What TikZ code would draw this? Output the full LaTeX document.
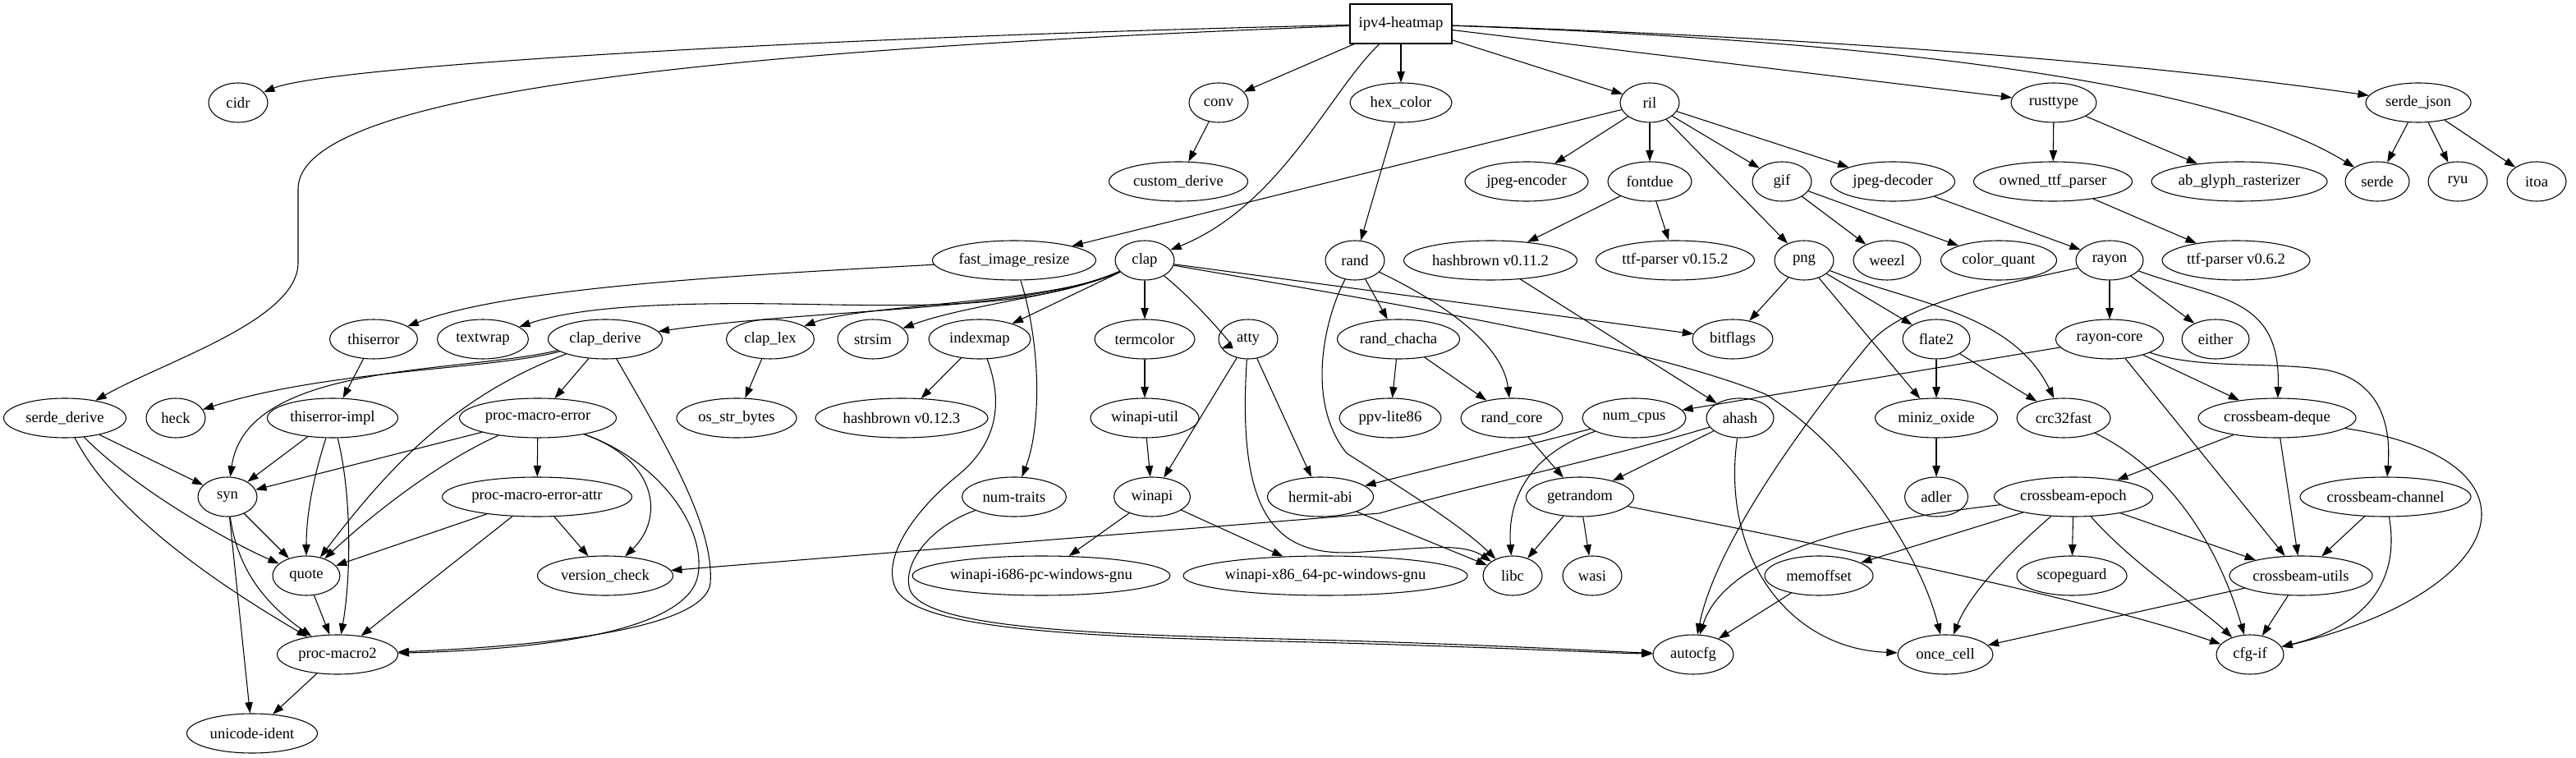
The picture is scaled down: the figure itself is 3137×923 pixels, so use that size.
\documentclass[tikz,border=0pt]{standalone}
\usepackage{fontspec}
\setmainfont{Liberation Serif}
\usetikzlibrary{arrows.meta,shapes.geometric}
\begin{document}
\begin{tikzpicture}[x=0.75pt,y=-0.75pt,
  nd/.style={draw, ellipse, line width=0.8pt, inner sep=0pt, minimum height=36pt, font=\fontsize{14pt}{16pt}\selectfont},
  wd/.style={minimum width=#1*0.75pt},
  box/.style={draw, rectangle, line width=0.8pt, inner sep=0pt, minimum width=93pt, minimum height=36pt, font=\fontsize{14pt}{16pt}\selectfont},
  ed/.style={draw, line width=0.8pt, -{Triangle[length=10pt,width=7pt]}}]
\useasboundingbox (0,0) rectangle (3137,923);
% row 0
\node[box] (ipv) at (1706,29) {ipv4-heatmap};
% row 1
\node[nd,wd=72] (cidr) at (290,125) {cidr};
\node[nd,wd=72] (conv) at (1484,125) {conv};
\node[nd,wd=124] (hexc) at (1706,125) {hex\_color};
\node[nd,wd=72] (ril) at (2009,125) {ril};
\node[nd,wd=104] (rust) at (2501,125) {rusttype};
\node[nd,wd=128] (sjson) at (2945,125) {serde\_json};
% row 2
\node[nd,wd=169] (custd) at (1435,221) {custom\_derive};
\node[nd,wd=150] (jenc) at (1859,221) {jpeg-encoder};
\node[nd,wd=102] (fontdue) at (2009,221) {fontdue};
\node[nd,wd=72] (gif) at (2170,221) {gif};
\node[nd,wd=151] (jdec) at (2305,221) {jpeg-decoder};
\node[nd,wd=193] (ottf) at (2500,221) {owned\_ttf\_parser};
\node[nd,wd=214] (abg) at (2727,221) {ab\_glyph\_rasterizer};
\node[nd,wd=78] (serde) at (2895,221) {serde};
\node[nd,wd=72] (ryu) at (2993,221) {ryu};
\node[nd,wd=72] (itoa) at (3089,221) {itoa};
% row 3
\node[nd,wd=199] (fir) at (1235,317) {fast\_image\_resize};
\node[nd,wd=72] (clap) at (1394,317) {clap};
\node[nd,wd=72] (rand) at (1650,317) {rand};
\node[nd,wd=211] (hbA) at (1815,317) {hashbrown v0.11.2};
\node[nd,wd=193] (ttfA) at (2040,317) {ttf-parser v0.15.2};
\node[nd,wd=72] (png) at (2197,317) {png};
\node[nd,wd=82] (weezl) at (2298,317) {weezl};
\node[nd,wd=141] (cq) at (2434,317) {color\_quant};
\node[nd,wd=82] (rayon) at (2569,317) {rayon};
\node[nd,wd=180] (ttfB) at (2723,317) {ttf-parser v0.6.2};
% row 4
\node[nd,wd=107] (thiserror) at (455,413) {thiserror};
\node[nd,wd=111] (textwrap) at (588,413) {textwrap};
\node[nd,wd=139] (clapd) at (737,413) {clap\_derive};
\node[nd,wd=107] (claplex) at (938,413) {clap\_lex};
\node[nd,wd=86] (strsim) at (1063,413) {strsim};
\node[nd,wd=124] (indexmap) at (1193,413) {indexmap};
\node[nd,wd=122] (termcolor) at (1394,413) {termcolor};
\node[nd,wd=72] (atty) at (1520,413) {atty};
\node[nd,wd=149] (rchacha) at (1703,413) {rand\_chacha};
\node[nd,wd=98] (bitflags) at (2110,413) {bitflags};
\node[nd,wd=82] (flate) at (2358,413) {flate2};
\node[nd,wd=131] (rcore) at (2569,413) {rayon-core};
\node[nd,wd=82] (either) at (2698,413) {either};
% row 5
\node[nd,wd=149] (sderive) at (79,509) {serde\_derive};
\node[nd,wd=72] (heck) at (214,509) {heck};
\node[nd,wd=159] (teimpl) at (405,509) {thiserror-impl};
\node[nd,wd=191] (pme) at (655,509) {proc-macro-error};
\node[nd,wd=146] (osb) at (897,509) {os\_str\_bytes};
\node[nd,wd=210] (hbB) at (1098,509) {hashbrown v0.12.3};
\node[nd,wd=132] (wutil) at (1394,509) {winapi-util};
\node[nd,wd=124] (ppv) at (1693,509) {ppv-lite86};
\node[nd,wd=124] (randcore) at (1841,509) {rand\_core};
\node[nd,wd=126] (numcpus) at (1990,509) {num\_cpus};
\node[nd,wd=82] (ahash) at (2119,509) {ahash};
\node[nd,wd=149] (miniz) at (2358,509) {miniz\_oxide};
\node[nd,wd=114] (crc) at (2513,509) {crc32fast};
\node[nd,wd=192] (cbdeque) at (2773,509) {crossbeam-deque};
% row 6
\node[nd,wd=72] (syn) at (277,605) {syn};
\node[nd,wd=231] (pmea) at (654,605) {proc-macro-error-attr};
\node[nd,wd=127] (numtraits) at (1235,605) {num-traits};
\node[nd,wd=93] (winapi) at (1403,605) {winapi};
\node[nd,wd=129] (hermit) at (1608,605) {hermit-abi};
\node[nd,wd=131] (getrandom) at (1924,605) {getrandom};
\node[nd,wd=77] (adler) at (2358,605) {adler};
\node[nd,wd=193] (cbepoch) at (2525,605) {crossbeam-epoch};
\node[nd,wd=208] (cbchan) at (2905,605) {crossbeam-channel};
% row 7
\node[nd,wd=82] (quote) at (373,701) {quote};
\node[nd,wd=165] (vcheck) at (737,701) {version\_check};
\node[nd,wd=307] (wi686) at (1268,701) {winapi-i686-pc-windows-gnu};
\node[nd,wd=336] (wx64) at (1614,701) {winapi-x86\_64-pc-windows-gnu};
\node[nd,wd=72] (libc) at (1842,701) {libc};
\node[nd,wd=72] (wasi) at (1939,701) {wasi};
\node[nd,wd=132] (memoffset) at (2215,701) {memoffset};
\node[nd,wd=134] (scopeguard) at (2523,701) {scopeguard};
\node[nd,wd=174] (cbutils) at (2802,701) {crossbeam-utils};
% row 8
\node[nd,wd=147] (pm2) at (411,797) {proc-macro2};
\node[nd,wd=98] (autocfg) at (2062,797) {autocfg};
\node[nd,wd=116] (oncecell) at (2369,797) {once\_cell};
\node[nd,wd=82] (cfgif) at (2740,797) {cfg-if};
% row 9
\node[nd,wd=159] (uident) at (307,893) {unicode-ident};

% ---- edges: ipv4-heatmap
\draw[ed] (ipv) .. controls (1000,45) and (400,80) .. (cidr);
\draw[ed] (ipv) .. controls (900,60) and (363,110) .. (363,230) -- (363,320) .. controls (363,390) and (200,440) .. (sderive);
\draw[ed] (ipv) -- (conv);
\draw[ed] (ipv) -- (hexc);
\draw[ed] (ipv) .. controls (1620,110) and (1560,250) .. (clap);
\draw[ed] (ipv) -- (ril);
\draw[ed] (ipv) -- (rust);
\draw[ed] (ipv) .. controls (2300,50) and (2700,100) .. (serde);
\draw[ed] (ipv) .. controls (2200,45) and (2600,75) .. (sjson);
% ril
\draw[ed] (ril) -- (jenc);
\draw[ed] (ril) -- (fontdue);
\draw[ed] (ril) -- (gif);
\draw[ed] (ril) -- (jdec);
\draw[ed] (ril) -- (png);
\draw[ed] (ril) -- (fir);
\draw[ed] (fontdue) -- (hbA);
\draw[ed] (fontdue) -- (ttfA);
\draw[ed] (gif) -- (weezl);
\draw[ed] (gif) -- (cq);
\draw[ed] (jdec) -- (rayon);
\draw[ed] (rust) -- (ottf);
\draw[ed] (rust) -- (abg);
\draw[ed] (ottf) -- (ttfB);
\draw[ed] (sjson) -- (serde);
\draw[ed] (sjson) -- (ryu);
\draw[ed] (sjson) -- (itoa);
\draw[ed] (conv) -- (custd);
\draw[ed] (hexc) -- (rand);
% rand
\draw[ed] (rand) -- (rchacha);
\draw[ed] (rand) .. controls (1760,370) and (1830,420) .. (randcore);
\draw[ed] (rand) .. controls (1612,390) and (1590,490) .. (1640,552) .. controls (1700,590) and (1780,640) .. (libc);
\draw[ed] (rchacha) -- (ppv);
\draw[ed] (rchacha) -- (randcore);
\draw[ed] (randcore) -- (getrandom);
\draw[ed] (getrandom) -- (libc);
\draw[ed] (getrandom) -- (wasi);
\draw[ed] (getrandom) .. controls (2200,660) and (2550,730) .. (cfgif);
% hashbrown / ahash
\draw[ed] (hbA) -- (ahash);
\draw[ed] (ahash) -- (getrandom);
\draw[ed] (ahash) .. controls (2095,680) and (2180,790) .. (oncecell);
\draw[ed] (ahash) .. controls (1950,560) and (1800,590) .. (1680,625) -- (vcheck);
% num_cpus, atty, winapi
\draw[ed] (numcpus) -- (hermit);
\draw[ed] (numcpus) .. controls (1870,550) and (1835,600) .. (libc);
\draw[ed] (hermit) -- (libc);
\draw[ed] (atty) -- (winapi);
\draw[ed] (atty) -- (hermit);
\draw[ed] (atty) .. controls (1505,640) and (1560,680) .. (1660,672) .. controls (1730,668) and (1780,660) .. (libc);
\draw[ed] (wutil) -- (winapi);
\draw[ed] (winapi) -- (wi686);
\draw[ed] (winapi) -- (wx64);
\draw[ed] (termcolor) -- (wutil);
\draw[ed] (claplex) -- (osb);
\draw[ed] (indexmap) -- (hbB);
% autocfg
\draw[ed] (indexmap) .. controls (1222,490) and (1215,540) .. (1165,580) .. controls (1110,625) and (1075,680) .. (1090,715) .. controls (1110,765) and (1300,775) .. (1560,781) .. controls (1800,787) and (1950,795) .. (autocfg);
\draw[ed] (numtraits) .. controls (1135,640) and (1098,685) .. (1108,718) .. controls (1125,762) and (1300,772) .. (1560,778) .. controls (1800,784) and (1950,793) .. (autocfg);
\draw[ed] (memoffset) -- (autocfg);
\draw[ed] (rayon) .. controls (2450,345) and (2320,365) .. (2275,420) .. controls (2200,510) and (2090,660) .. (autocfg);
\draw[ed] (cbepoch) .. controls (2250,635) and (2100,680) .. (autocfg);
% crossbeam
\draw[ed] (cbepoch) -- (memoffset);
\draw[ed] (cbepoch) -- (scopeguard);
\draw[ed] (cbepoch) -- (cbutils);
\draw[ed] (cbepoch) .. controls (2450,670) and (2400,720) .. (oncecell);
\draw[ed] (cbepoch) .. controls (2600,690) and (2680,740) .. (cfgif);
\draw[ed] (cbdeque) -- (cbepoch);
\draw[ed] (cbdeque) -- (cbutils);
\draw[ed] (cbdeque) .. controls (3110,560) and (3060,720) .. (cfgif);
\draw[ed] (cbchan) -- (cbutils);
\draw[ed] (cbchan) .. controls (2922,700) and (2890,760) .. (cfgif);
\draw[ed] (cbutils) -- (oncecell);
\draw[ed] (cbutils) -- (cfgif);
\draw[ed] (crc) .. controls (2640,570) and (2700,660) .. (cfgif);
% rayon
\draw[ed] (rayon) -- (rcore);
\draw[ed] (rayon) -- (either);
\draw[ed] (rayon) .. controls (2700,365) and (2778,360) .. (cbdeque);
\draw[ed] (rcore) -- (cbdeque);
\draw[ed] (rcore) -- (cbutils);
\draw[ed] (rcore) .. controls (2680,450) and (2760,440) .. (2830,450) .. controls (2900,462) and (2912,520) .. (cbchan);
\draw[ed] (rcore) -- (numcpus);
% png
\draw[ed] (png) -- (bitflags);
\draw[ed] (png) -- (flate);
\draw[ed] (png) -- (miniz);
\draw[ed] (png) .. controls (2330,370) and (2450,380) .. (crc);
\draw[ed] (flate) -- (miniz);
\draw[ed] (flate) -- (crc);
\draw[ed] (miniz) -- (adler);
% clap
\draw[ed] (clap) -- (termcolor);
\draw[ed] (clap) -- (indexmap);
\draw[ed] (clap) .. controls (1300,360) and (1180,370) .. (strsim);
\draw[ed] (clap) .. controls (1280,370) and (1050,370) .. (claplex);
\draw[ed] (clap) .. controls (1250,380) and (1000,375) .. (clapd);
\draw[ed] (clap) .. controls (1250,380) and (1100,372) .. (950,370) .. controls (800,368) and (700,375) .. (textwrap);
\draw[ed] (clap) .. controls (1460,370) and (1500,420) .. (atty);
\draw[ed] (clap) -- (bitflags);
\draw[ed] (clap) .. controls (1700,370) and (2000,420) .. (2150,480) .. controls (2260,550) and (2340,680) .. (oncecell);
% clap_derive
\draw[ed] (clapd) -- (pme);
\draw[ed] (clapd) .. controls (600,450) and (400,450) .. (heck);
\draw[ed] (clapd) .. controls (560,455) and (300,440) .. (syn);
\draw[ed] (clapd) .. controls (560,480) and (480,560) .. (quote);
\draw[ed] (clapd) .. controls (810,540) and (870,640) .. (865,710) .. controls (860,760) and (700,785) .. (pm2);
% proc-macro-error
\draw[ed] (pme) .. controls (800,560) and (860,640) .. (850,700) .. controls (840,760) and (700,790) .. (pm2);
\draw[ed] (pme) .. controls (800,560) and (810,630) .. (vcheck);
\draw[ed] (pme) -- (pmea);
\draw[ed] (pme) -- (syn);
\draw[ed] (pme) .. controls (540,560) and (460,620) .. (quote);
\draw[ed] (pmea) -- (quote);
\draw[ed] (pmea) -- (pm2);
\draw[ed] (pmea) -- (vcheck);
% thiserror, serde_derive, syn
\draw[ed] (thiserror) -- (teimpl);
\draw[ed] (teimpl) -- (syn);
\draw[ed] (teimpl) .. controls (385,570) and (373,620) .. (quote);
\draw[ed] (teimpl) .. controls (428,600) and (428,700) .. (pm2);
\draw[ed] (sderive) -- (syn);
\draw[ed] (sderive) .. controls (170,600) and (280,660) .. (quote);
\draw[ed] (sderive) .. controls (140,630) and (280,720) .. (pm2);
\draw[ed] (syn) -- (quote);
\draw[ed] (syn) .. controls (290,700) and (330,740) .. (pm2);
\draw[ed] (syn) -- (uident);
\draw[ed] (quote) -- (pm2);
\draw[ed] (pm2) -- (uident);
% fast_image_resize
\draw[ed] (fir) .. controls (900,335) and (620,350) .. (thiserror);
\draw[ed] (fir) .. controls (1268,420) and (1268,520) .. (numtraits);
\end{tikzpicture}
\end{document}
